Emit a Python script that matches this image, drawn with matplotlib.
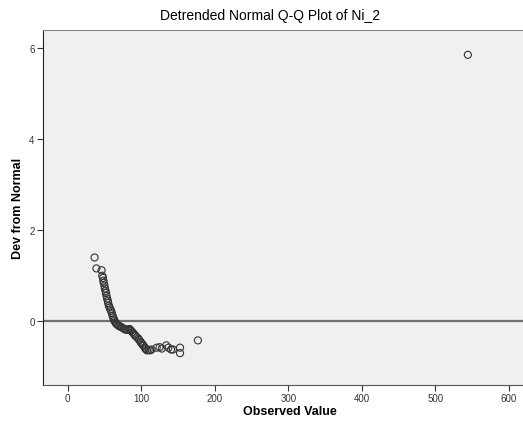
import matplotlib
matplotlib.use("Agg")
import matplotlib.pyplot as plt

plt.rcParams['font.family'] = ['Liberation Sans', 'DejaVu Sans']

# observed Ni_2 values and their deviation from the normal line
observed = [36.5, 39, 46, 47, 48, 48.5, 49, 50, 50.5, 51.4, 52, 52.7, 53.5, 54.5,
            55, 56, 57, 58, 59, 60, 61, 62, 62.6, 63.5, 65, 66, 67, 69, 70, 72,
            74, 76, 78, 80, 82, 84, 85, 86, 88, 89.6, 91, 92, 94, 96, 97, 99,
            100, 102, 103, 105, 106, 107.7, 110, 112, 114, 121, 125, 128, 134,
            137, 140.5, 143, 152.7, 152.7, 177, 544]
dev = [1.40, 1.16, 1.12, 1.00, 0.95, 0.89, 0.84, 0.78, 0.72, 0.67, 0.62, 0.56,
       0.50, 0.45, 0.40, 0.34, 0.30, 0.26, 0.23, 0.18, 0.12, 0.08, 0.04, 0.01,
       -0.03, -0.05, -0.07, -0.09, -0.11, -0.12, -0.14, -0.16, -0.18, -0.19,
       -0.18, -0.17, -0.19, -0.21, -0.24, -0.27, -0.30, -0.32, -0.35, -0.38,
       -0.41, -0.45, -0.48, -0.51, -0.54, -0.58, -0.61, -0.64, -0.63, -0.64,
       -0.62, -0.58, -0.57, -0.60, -0.53, -0.58, -0.62, -0.62, -0.58, -0.70,
       -0.42, 5.85]
xticks = [0, 100, 200, 300, 400, 500, 600]
yticks = [0, 2, 4, 6]

fig = plt.figure(figsize=(5.23, 4.27), dpi=100)
ax = fig.add_axes([43 / 523, 1 - 386 / 427, 494 / 523, 355 / 427])
ax.set_facecolor('#f0f0f0')

ax.axhline(0, color='#707070', lw=1.6, zorder=1)
ax.scatter(observed, dev, s=26, facecolors='none', edgecolors='#333333',
           linewidths=0.8, zorder=2)

ax.set_xlim(-33.6, 638)
ax.set_ylim(-1.40, 6.395)
ax.set_xticks(xticks)
ax.set_yticks(yticks)
ax.tick_params(labelsize=7, colors='#333333', length=4, width=0.8, pad=2)

for side in ['top', 'right']:
    ax.spines[side].set_color('#8a8a8a')
ax.spines['left'].set_color('#222222')
ax.spines['bottom'].set_color('#555555')

ax.set_xlabel('Observed Value', fontsize=9, fontweight='bold')
ax.set_ylabel('Dev from Normal', fontsize=9, fontweight='bold')
ax.xaxis.set_label_coords(0.5, -26 / 355)
ax.yaxis.set_label_coords(-25 / 494, 0.5)
ax.xaxis.label.set_va('center')
ax.yaxis.label.set_va('center')
fig.text(270 / 523, 1 - 16 / 427, 'Detrended Normal Q-Q Plot of Ni_2',
         ha='center', va='center', fontsize=10)

fig.savefig('out.png', dpi=100)
